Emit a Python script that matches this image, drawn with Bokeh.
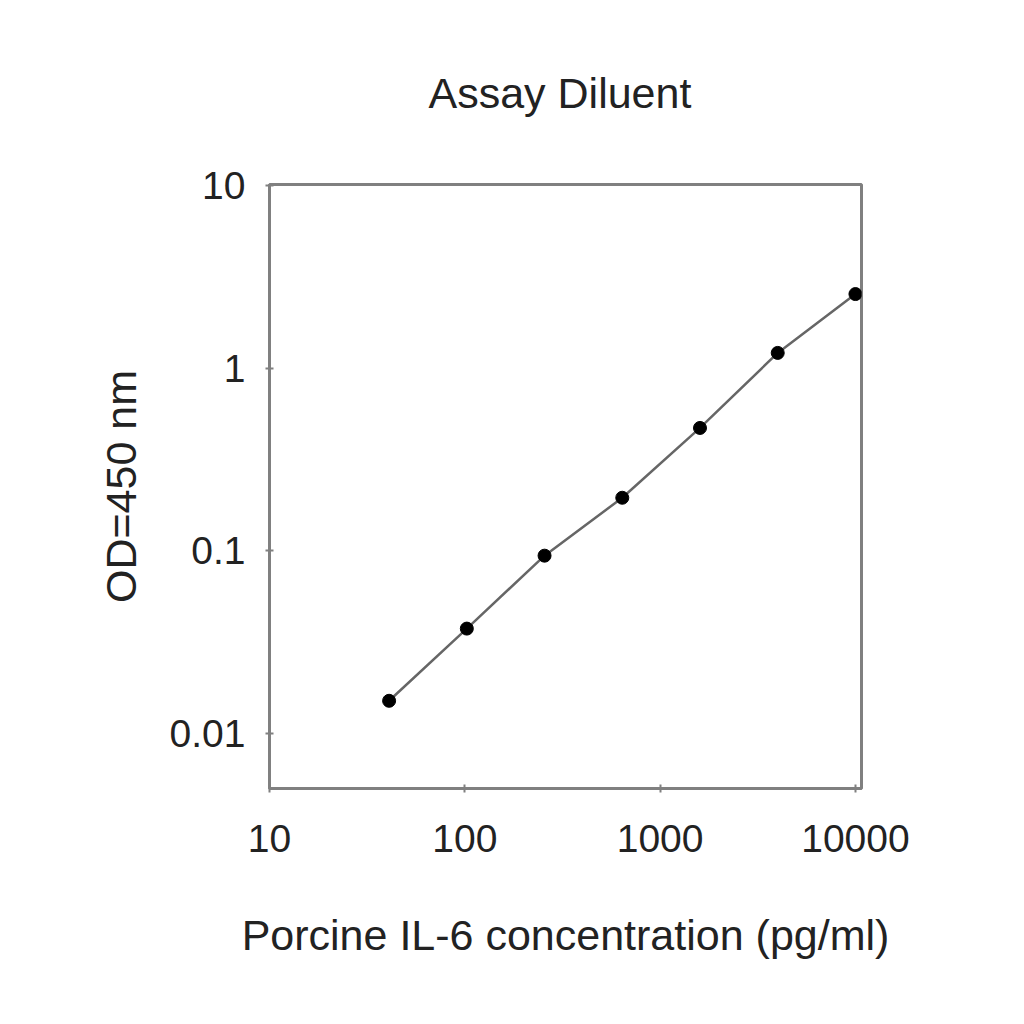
from bokeh.plotting import figure
from bokeh.models import Range1d, FixedTicker, CustomJSTickFormatter, ColumnDataSource
from bokeh.embed import file_html
from bokeh.resources import INLINE

# Data
concentration = [40.96, 102.4, 256, 640, 1600, 4000, 10000]
od450 = [0.0151, 0.0375, 0.094, 0.195, 0.47, 1.21, 2.54]
x_ticks = [10, 100, 1000, 10000]
y_ticks = [0.01, 0.1, 1, 10]

title_text = "Assay Diluent"
x_label = "Porcine IL-6 concentration (pg/ml)"
y_label = "OD=450 nm"

FONT = "Liberation Sans"
TEXT = "#222222"
FRAME = "#808080"

src = ColumnDataSource(dict(x=concentration, y=od450))

p = figure(width=1000, height=1000, x_axis_type="log", y_axis_type="log",
           x_range=Range1d(10, 10740), y_range=Range1d(0.005, 10.1),
           output_backend="svg", toolbar_location=None,
           min_border_left=269, min_border_right=139,
           min_border_top=184, min_border_bottom=212)

p.background_fill_color = "white"
p.border_fill_color = "white"
p.outline_line_color = FRAME
p.outline_line_width = 3
p.xgrid.visible = False
p.ygrid.visible = False

p.title.text = title_text
p.title.align = "left"
p.title.vertical_align = "top"
p.title.text_font = FONT
p.title.text_font_size = "43px"
p.title.text_font_style = "normal"
p.title.text_color = TEXT
p.title.offset = 159
p.title.standoff = 132

p.line("x", "y", source=src, line_color="#666666", line_width=2.5)
p.scatter("x", "y", source=src, size=13, fill_color="black", line_color="black")

fmt = CustomJSTickFormatter(code="return String(tick);")

for ax, ticks, lab in ((p.xaxis[0], x_ticks, x_label), (p.yaxis[0], y_ticks, y_label)):
    ax.ticker = FixedTicker(ticks=ticks, minor_ticks=[])
    ax.formatter = fmt
    ax.axis_label = lab
    ax.axis_label_text_font = FONT
    ax.axis_label_text_font_size = "43px"
    ax.axis_label_text_font_style = "normal"
    ax.axis_label_text_color = TEXT
    ax.major_label_text_font = FONT
    ax.major_label_text_font_size = "39px"
    ax.major_label_text_color = TEXT
    ax.axis_line_color = FRAME
    ax.axis_line_width = 3
    ax.major_tick_line_color = FRAME
    ax.major_tick_line_width = 2
    ax.major_tick_in = 4
    ax.major_tick_out = 4
    ax.minor_tick_line_color = None

p.xaxis[0].major_label_standoff = 32
p.xaxis[0].axis_label_standoff = 56
p.yaxis[0].major_label_standoff = 20
p.yaxis[0].axis_label_standoff = 22

open("out.html", "w").write(file_html(p, INLINE))
